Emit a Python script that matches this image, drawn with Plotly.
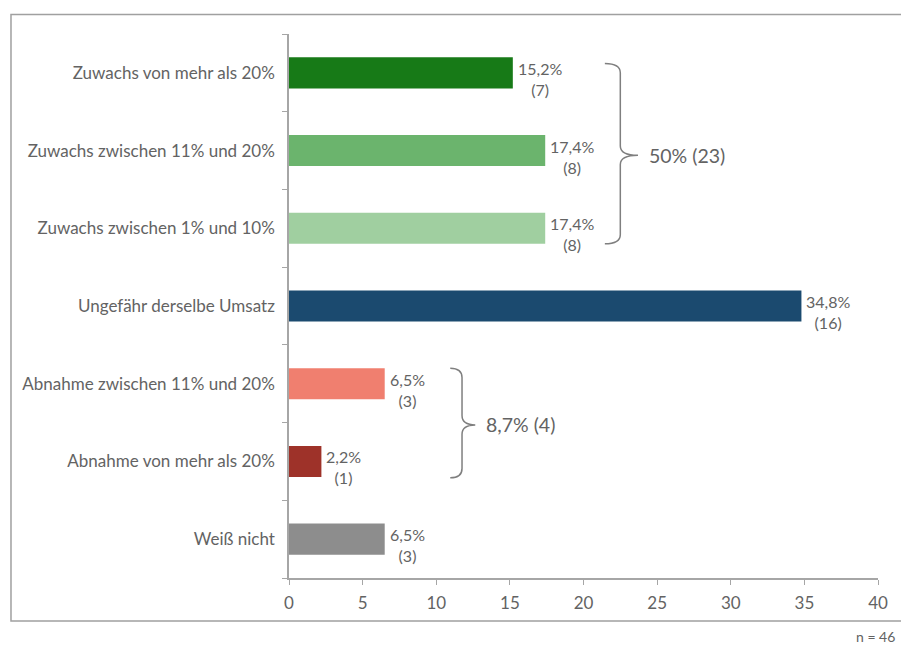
import plotly.graph_objects as go

categories = [
    "Zuwachs von mehr als 20%",
    "Zuwachs zwischen 11% und 20%",
    "Zuwachs zwischen 1% und 10%",
    "Ungefähr derselbe Umsatz",
    "Abnahme zwischen 11% und 20%",
    "Abnahme von mehr als 20%",
    "Weiß nicht",
]
percent = [15.2, 17.4, 17.4, 34.8, 6.5, 2.2, 6.5]
counts = [7, 8, 8, 16, 3, 1, 3]
colors = ["#177A17", "#6BB46D", "#A0CFA0", "#1B4A6F", "#F07F6F", "#9E3229", "#8D8D8D"]
x_ticks = [0, 5, 10, 15, 20, 25, 30, 35, 40]
groups = [
    {"text": "50% (23)", "y0": -0.12, "y1": 2.2, "ym": 1.06, "x0": 21.45, "x1": 22.5, "xt": 23.7},
    {"text": "8,7% (4)", "y0": 3.8, "y1": 5.21, "ym": 4.53, "x0": 10.95, "x1": 11.75, "xt": 12.65},
]
n_text = "n = 46"

FONT = "Lato"
W = 400
GREY = "#636363"
idx = list(range(len(categories)))

fig = go.Figure()
fig.add_trace(go.Bar(
    y=idx, x=percent, orientation="h",
    marker=dict(color=colors, line=dict(width=0)),
    width=0.4, hoverinfo="skip",
))

for i, (p, c) in enumerate(zip(percent, counts)):
    fig.add_annotation(
        x=p, y=i, xref="x", yref="y",
        text=f"{p:.1f}".replace(".", ",") + f"%<br>({c})",
        showarrow=False, xanchor="left", yanchor="middle", align="center",
        xshift=3, yshift=-6,
        font=dict(family=FONT, size=16, color=GREY, weight=W),
    )

for g in groups:
    x0, x1, xt = g["x0"], g["x1"], g["xt"]
    y0, y1, ym = g["y0"], g["y1"], g["ym"]
    r = 0.12
    path = (f"M {x0},{y0} Q {x1},{y0} {x1},{y0+r} "
            f"L {x1},{ym-r} Q {x1},{ym} {xt},{ym} "
            f"Q {x1},{ym} {x1},{ym+r} "
            f"L {x1},{y1-r} Q {x1},{y1} {x0},{y1}")
    fig.add_shape(type="path", path=path, xref="x", yref="y",
                  line=dict(color="#7F7F7F", width=1.5))
    fig.add_annotation(
        x=xt, y=ym, xref="x", yref="y", text=g["text"], showarrow=False,
        xanchor="left", yanchor="middle", xshift=9,
        font=dict(family=FONT, size=19.5, color=GREY, weight=W),
    )

# outer frame
fig.add_shape(type="rect", xref="paper", yref="paper",
              x0=-0.472, x1=1.2, y0=-0.079, y1=1.0358,
              line=dict(color="#A0A0A0", width=1.5), fillcolor="rgba(0,0,0,0)",
              layer="below")

fig.add_annotation(
    x=1.032, y=-0.108, xref="paper", yref="paper", text=n_text,
    showarrow=False, xanchor="right", yanchor="middle",
    font=dict(family=FONT, size=14, color=GREY, weight=W),
)

fig.update_layout(
    width=901, height=646,
    margin=dict(l=289, r=23, t=34, b=68),
    paper_bgcolor="white", plot_bgcolor="white",
    showlegend=False,
    font=dict(family=FONT, size=17, color=GREY, weight=W),
    xaxis=dict(
        range=[0, 40], tickvals=x_ticks, ticks="outside", ticklen=5,
        tickcolor="#A6A6A6", showline=True, linecolor="#A6A6A6", linewidth=1.5,
        showgrid=False, zeroline=False, ticklabelstandoff=4,
        tickfont=dict(family=FONT, size=17, color=GREY, weight=W),
    ),
    yaxis=dict(
        range=[6.5, -0.5], tickvals=idx, ticktext=categories, ticks="",
        showline=True, linecolor="#A6A6A6", linewidth=1.5,
        showgrid=False, zeroline=False, ticklabelstandoff=9,
        tickfont=dict(family=FONT, size=17, color=GREY, weight=W),
        minor=dict(tickvals=[i - 0.5 for i in range(len(categories) + 1)],
                   ticks="outside", ticklen=5, tickcolor="#A6A6A6", showgrid=False),
    ),
)

fig.write_html("out.html", config={"displayModeBar": False})
with open("out.html", encoding="utf-8") as f:
    html = f.read()
html = html.replace("<body>", '<body style="margin:0;padding:0;overflow:hidden">', 1)
with open("out.html", "w", encoding="utf-8") as f:
    f.write(html)
